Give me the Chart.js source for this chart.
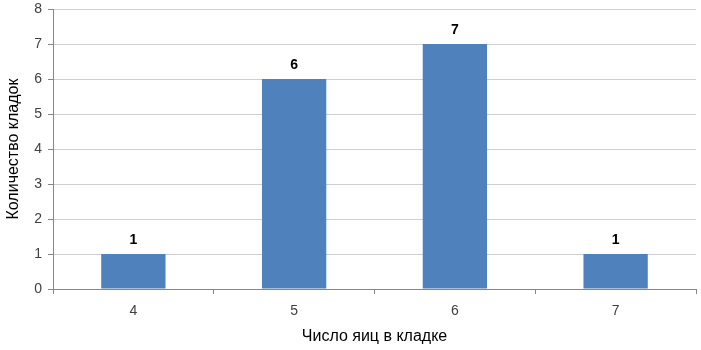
<!DOCTYPE html>
<html>
<head>
<meta charset="utf-8">
<script src="https://cdn.jsdelivr.net/npm/chart.js@4.4.1/dist/chart.umd.min.js"></script>
<style>
  html, body { margin: 0; padding: 0; background: #fff; }
  #wrap { width: 701px; height: 350px; position: relative; }
</style>
</head>
<body>
<div id="wrap"><canvas id="myChart"></canvas></div>
<script>
// data
const categories = ['4', '5', '6', '7'];
const clutches = [1, 6, 7, 1];
const yTicks = [0, 1, 2, 3, 4, 5, 6, 7, 8];

const xTitle = 'Число яиц в кладке';
const yTitle = 'Количество кладок';

// value labels above bars
const barLabels = {
  id: 'barLabels',
  afterDatasetsDraw(chart) {
    const c = chart.ctx;
    const meta = chart.getDatasetMeta(0);
    c.save();
    c.font = 'bold 14px "Liberation Sans", Arial, sans-serif';
    c.fillStyle = '#000';
    c.textAlign = 'center';
    c.textBaseline = 'bottom';
    meta.data.forEach((bar, i) => {
      c.fillText(chart.data.datasets[0].data[i], bar.x, bar.y - 7);
    });
    c.restore();
  }
};

const ctx = document.getElementById('myChart');
const myChart = new Chart(ctx, {
  type: 'bar',
  data: {
    labels: categories,
    datasets: [{
      data: clutches,
      backgroundColor: '#4f81bd',
      borderColor: '#4f81bd',
      borderWidth: 0,
      categoryPercentage: 1,
      barPercentage: 0.4
    }]
  },
  options: {
    responsive: true,
    maintainAspectRatio: false,
    animation: false,
    layout: { padding: { top: 9, right: 5, left: 0, bottom: 0 } },
    plugins: {
      legend: { display: false },
      tooltip: { enabled: false }
    },
    scales: {
      x: {
        grid: {
          offset: true,
          drawOnChartArea: false,
          drawTicks: true,
          tickLength: 5,
          color: '#868686'
        },
        border: { color: '#868686' },
        ticks: {
          color: '#404040',
          font: { family: '"Liberation Sans", Arial, sans-serif', size: 14 },
          padding: 9
        },
        title: {
          display: true,
          text: xTitle,
          color: '#000',
          font: { family: '"Liberation Sans", Arial, sans-serif', size: 16 },
          padding: { top: 8 }
        },
        afterFit: s => { s.height = 61; }
      },
      y: {
        min: 0,
        max: 8,
        afterBuildTicks: s => { s.ticks = yTicks.map(v => ({ value: v })); },
        grid: {
          color: '#cfcfcf',
          borderDash: [1, 2],
          tickColor: '#868686',
          tickBorderDash: [],
          tickLength: 5
        },
        border: { color: '#868686' },
        ticks: {
          color: '#404040',
          font: { family: '"Liberation Sans", Arial, sans-serif', size: 14 },
          padding: 6
        },
        title: {
          display: true,
          text: yTitle,
          color: '#000',
          font: { family: '"Liberation Sans", Arial, sans-serif', size: 16 },
          padding: { bottom: 4 }
        },
        afterFit: s => { s.width = 53; s.paddingTop = 0; s.paddingBottom = 0; }
      }
    }
  },
  plugins: [barLabels]
});
</script>
</body>
</html>
